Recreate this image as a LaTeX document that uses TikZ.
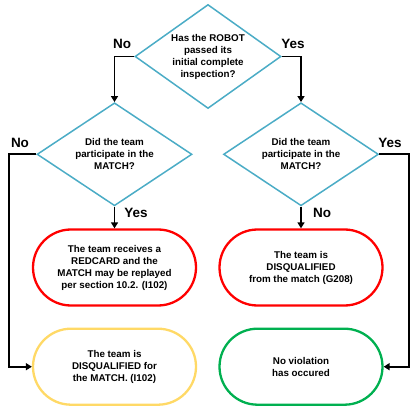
\documentclass[tikz,border=0pt]{standalone}
\usepackage{fontspec}
\setmainfont{Liberation Sans}
\usetikzlibrary{shapes.geometric,shapes.misc,arrows.meta}
\definecolor{dcyan}{HTML}{4BACC6}
\definecolor{rred}{HTML}{FF0000}
\definecolor{ryel}{HTML}{FFD966}
\definecolor{rgrn}{HTML}{00B050}
\tikzset{
  dec/.style={diamond, draw=dcyan, line width=1.5pt, aspect=1.5, inner sep=0pt,
    font=\bfseries\fontsize{9.8}{12}\selectfont, align=center},
  term/.style={rounded rectangle, draw=#1, line width=2.3pt, minimum width=163pt,
    minimum height=76pt, inner sep=0pt, font=\bfseries\fontsize{9.8}{12}\selectfont, align=center},
  flow/.style={draw=black, line width=1.8pt, -{Triangle[length=6pt,width=7pt]}},
  lbl/.style={font=\bfseries\fontsize{13.5}{14}\selectfont},
}
\begin{document}
\begin{tikzpicture}[x=1pt,y=-1pt]
\useasboundingbox (0,0) rectangle (414,411);
\node[dec, minimum width=146pt, minimum height=104pt] (d0) at (208,56.5) {Has the ROBOT\\passed its\\initial complete\\inspection?};
\node[dec, minimum width=155pt, minimum height=103pt] (d1) at (114.5,154.3) {Did the team\\participate in the\\MATCH?};
\node[dec, minimum width=155pt, minimum height=103pt] (d2) at (301,154.3) {Did the team\\participate in the\\MATCH?};
\node[term=rred] (r1) at (114.5,267.5) {The team receives a\\REDCARD and the\\MATCH may be replayed\\per section 10.2. (I102)};
\node[term=rred] (r2) at (301,267.5) {The team is\\DISQUALIFIED\\from the match (G208)};
\node[term=ryel] (y1) at (114.5,366.7) {The team is\\DISQUALIFIED for\\the MATCH. (I102)};
\node[term=rgrn] (g1) at (301,366.7) {No violation\\has occured};
\coordinate (cl) at (9.3,0);
\coordinate (cr) at (409,0);
\draw[flow] (d0.west) -| (d1.north);
\draw[flow] (d0.east) -| (d2.north);
\draw[flow] (d1.south) -- (r1.north);
\draw[flow] (d2.south) -- (r2.north);
\draw[flow] (d1.west) -- (d1.west -| cl) -- (y1.west -| cl) -- (y1.west);
\draw[flow] (d2.east) -- (d2.east -| cr) -- (g1.east -| cr) -- (g1.east);
\node[lbl] (n0) at (122,44) {No};
\node[lbl] (y0) at (293,44) {Yes};
\node[lbl] (n1) at (20,142.7) {No};
\node[lbl] (y2) at (390,142.7) {Yes};
\node[lbl] (y3) at (136,213.3) {Yes};
\node[lbl] (n3) at (322,213.3) {No};
\end{tikzpicture}
\end{document}
